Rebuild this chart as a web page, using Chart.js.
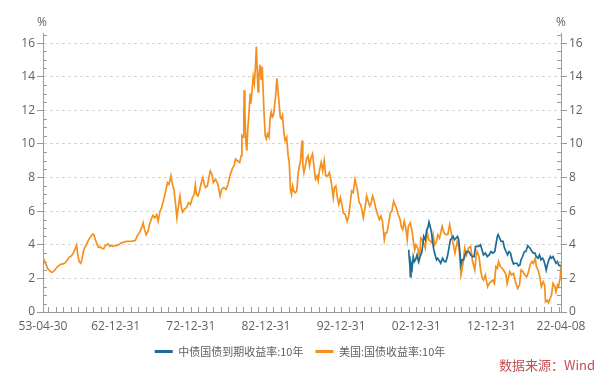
<!DOCTYPE html>
<html><head><meta charset="utf-8">
<script src="https://cdn.jsdelivr.net/npm/chart.js@4/dist/chart.umd.min.js"></script>
<style>
html,body{margin:0;padding:0;background:#fff;}
#wrap{position:relative;width:600px;height:377px;overflow:hidden;}
#c{position:absolute;left:0;top:0;}
.unit{position:absolute;top:13px;font:12px "Open Sans",sans-serif;color:#666;transform:translateX(-50%);}
#src{position:absolute;right:5px;top:356px;font:13px "Noto Sans CJK SC",sans-serif;color:#c44e52;line-height:18px;}
</style></head>
<body>
<div id="wrap">
<canvas id="c" width="600" height="377"></canvas>
<div class="unit" style="left:42px">%</div>
<div class="unit" style="left:561px">%</div>
<div id="src">数据来源：Wind</div>
</div>
<script>
// ---- data (decimal years) ----
const seriesNames = ['中债国债到期收益率:10年', '美国:国债收益率:10年'];
const xTickValues = [1953.326, 1962.997, 1972.997, 1982.997, 1992.997, 2002.997, 2012.997, 2022.266];
const xTickLabels = ['53-04-30', '62-12-31', '72-12-31', '82-12-31', '92-12-31', '02-12-31', '12-12-31', '22-04-08'];
const yTickValues = [0, 2, 4, 6, 8, 10, 12, 14, 16];

const usDates = [1953.33,1953.45,1953.6,1953.8,1954.0,1954.3,1954.5,1954.7,1954.9,1955.1,1955.4,1955.7,1955.9,1956.2,1956.5,1956.8,1957.0,1957.3,1957.55,1957.8,1957.95,1958.15,1958.35,1958.5,1958.7,1958.9,1959.1,1959.4,1959.7,1959.95,1960.1,1960.3,1960.5,1960.7,1960.9,1961.1,1961.4,1961.6,1961.8,1962.0,1962.2,1962.4,1962.6,1962.8,1963.1,1963.4,1963.7,1964.0,1964.4,1964.8,1965.2,1965.6,1965.9,1966.2,1966.45,1966.65,1966.85,1967.05,1967.3,1967.5,1967.8,1967.95,1968.2,1968.45,1968.65,1968.9,1969.1,1969.4,1969.65,1969.9,1970.1,1970.35,1970.55,1970.75,1970.95,1971.15,1971.35,1971.55,1971.75,1971.9,1972.1,1972.4,1972.7,1972.95,1973.2,1973.45,1973.6,1973.75,1973.95,1974.15,1974.4,1974.6,1974.8,1974.95,1975.2,1975.45,1975.6,1975.8,1976.0,1976.3,1976.6,1976.9,1977.1,1977.4,1977.7,1977.95,1978.2,1978.5,1978.75,1978.95,1979.2,1979.5,1979.7,1979.8,1979.95,1980.05,1980.1,1980.2,1980.35,1980.45,1980.6,1980.75,1980.9,1981.0,1981.15,1981.3,1981.45,1981.6,1981.72,1981.85,1981.95,1982.05,1982.2,1982.35,1982.5,1982.62,1982.75,1982.9,1983.05,1983.2,1983.4,1983.55,1983.7,1983.85,1984.0,1984.15,1984.3,1984.45,1984.6,1984.75,1984.9,1985.05,1985.2,1985.4,1985.55,1985.75,1985.95,1986.1,1986.25,1986.4,1986.55,1986.7,1986.9,1987.1,1987.3,1987.45,1987.6,1987.8,1987.9,1988.05,1988.2,1988.4,1988.6,1988.8,1988.95,1989.2,1989.4,1989.6,1989.8,1989.95,1990.15,1990.35,1990.55,1990.75,1990.95,1991.2,1991.45,1991.7,1991.95,1992.1,1992.3,1992.5,1992.7,1992.9,1993.1,1993.3,1993.55,1993.8,1994.0,1994.2,1994.4,1994.6,1994.85,1995.0,1995.2,1995.4,1995.6,1995.8,1995.95,1996.15,1996.4,1996.6,1996.8,1996.95,1997.2,1997.35,1997.6,1997.85,1998.1,1998.3,1998.5,1998.75,1998.9,1999.1,1999.3,1999.55,1999.75,2000.0,2000.15,2000.35,2000.6,2000.85,2001.0,2001.2,2001.4,2001.6,2001.8,2001.95,2002.2,2002.45,2002.65,2002.8,2002.95,2003.2,2003.45,2003.6,2003.8,2004.0,2004.2,2004.45,2004.65,2004.9,2005.1,2005.25,2005.45,2005.7,2005.85,2006.1,2006.45,2006.7,2006.95,2007.2,2007.45,2007.7,2007.9,2008.15,2008.45,2008.7,2008.95,2009.2,2009.45,2009.7,2009.95,2010.25,2010.5,2010.8,2010.95,2011.1,2011.35,2011.6,2011.8,2011.95,2012.2,2012.5,2012.7,2012.95,2013.2,2013.4,2013.6,2013.8,2013.95,2014.2,2014.45,2014.75,2014.95,2015.1,2015.45,2015.7,2015.95,2016.2,2016.5,2016.75,2016.95,2017.2,2017.45,2017.7,2017.95,2018.15,2018.4,2018.6,2018.85,2018.98,2019.2,2019.45,2019.65,2019.9,2020.1,2020.2,2020.45,2020.6,2020.85,2021.0,2021.2,2021.45,2021.6,2021.8,2021.95,2022.05,2022.15,2022.266];
const usYields = [3.05,3.12,2.95,2.75,2.55,2.42,2.36,2.4,2.5,2.62,2.75,2.85,2.85,2.9,3.05,3.25,3.3,3.45,3.7,3.98,3.4,3.0,2.9,3.1,3.6,3.85,4.0,4.3,4.5,4.65,4.6,4.3,4.05,3.85,3.9,3.8,3.75,3.95,4.0,4.05,3.9,3.95,3.9,3.95,3.95,4.0,4.1,4.15,4.2,4.2,4.22,4.25,4.55,4.75,5.0,5.3,4.9,4.6,4.8,5.2,5.6,5.75,5.6,5.8,5.4,6.0,6.2,6.7,7.2,7.7,7.6,8.1,7.6,7.3,6.5,5.6,6.3,6.9,6.2,5.95,6.1,6.2,6.5,6.4,6.8,7.0,7.55,7.0,6.9,7.2,7.7,8.0,7.6,7.4,7.5,8.1,8.4,8.2,7.7,7.9,7.6,6.9,7.3,7.4,7.3,7.6,8.1,8.5,8.7,9.1,9.0,8.9,9.3,10.5,10.4,11.5,13.2,11.8,10.0,9.6,11.0,11.9,13.0,12.4,13.2,14.0,13.6,14.6,15.8,14.2,13.1,14.0,14.7,13.8,14.6,13.2,11.8,10.5,10.3,10.6,10.4,11.5,11.9,11.6,11.7,12.3,12.9,13.9,13.2,12.4,11.6,11.5,11.7,10.6,10.2,10.4,9.3,8.9,7.3,7.0,7.5,7.2,7.1,7.2,8.3,8.7,9.0,10.2,8.8,8.3,8.6,9.1,9.3,8.7,9.1,9.4,8.6,7.9,8.1,7.8,8.5,8.9,8.4,9.0,8.1,8.1,8.3,7.7,6.8,7.4,7.5,6.8,6.4,6.8,6.4,5.9,5.8,5.4,5.7,6.4,7.2,7.1,7.9,7.6,7.2,6.5,6.4,6.0,5.6,6.1,6.9,6.6,6.3,6.4,6.9,6.7,6.2,5.8,5.5,5.7,5.4,4.3,4.7,4.7,5.2,5.9,6.0,6.6,6.4,6.2,5.8,5.5,5.1,4.9,5.4,5.0,4.3,5.1,5.3,4.8,4.1,3.7,4.0,3.8,3.2,4.4,4.3,4.1,3.8,4.8,4.3,4.2,4.1,4.6,4.0,4.2,4.6,4.4,5.1,4.7,4.6,4.6,5.2,4.6,4.1,3.5,4.2,3.8,2.2,2.8,3.8,3.4,3.8,3.9,3.0,2.5,3.3,3.6,3.3,2.4,2.0,1.9,2.2,1.5,1.7,1.8,1.9,1.7,2.7,2.6,3.0,2.7,2.6,2.4,2.2,1.7,2.4,2.2,2.3,1.8,1.4,1.6,2.5,2.4,2.2,2.1,2.4,2.8,3.0,2.9,3.2,2.7,2.5,2.1,1.5,1.8,1.6,0.6,0.7,0.55,0.85,1.0,1.7,1.5,1.2,1.6,1.5,1.8,2.0,2.7];

const cnDates = [2002.0,2002.05,2002.15,2002.22,2002.3,2002.45,2002.6,2002.75,2002.9,2003.1,2003.3,2003.5,2003.7,2003.85,2004.0,2004.2,2004.4,2004.55,2004.7,2004.85,2005.0,2005.15,2005.3,2005.5,2005.7,2005.85,2006.0,2006.25,2006.5,2006.75,2006.95,2007.15,2007.35,2007.55,2007.75,2007.9,2008.1,2008.3,2008.5,2008.65,2008.8,2008.95,2009.1,2009.3,2009.5,2009.7,2009.85,2010.0,2010.25,2010.5,2010.7,2010.9,2011.1,2011.3,2011.55,2011.75,2011.95,2012.2,2012.45,2012.7,2012.95,2013.2,2013.45,2013.6,2013.8,2013.9,2014.1,2014.3,2014.55,2014.75,2014.95,2015.15,2015.35,2015.55,2015.75,2015.95,2016.15,2016.4,2016.6,2016.8,2016.95,2017.15,2017.4,2017.6,2017.85,2017.95,2018.15,2018.4,2018.6,2018.8,2018.98,2019.2,2019.4,2019.6,2019.8,2019.95,2020.15,2020.3,2020.45,2020.65,2020.85,2021.0,2021.2,2021.4,2021.6,2021.8,2021.95,2022.1,2022.266];
const cnYields = [3.7,3.3,2.8,2.1,2.9,2.6,3.3,3.0,3.1,3.4,3.0,3.3,3.5,3.9,4.5,4.3,4.9,5.0,5.35,5.1,4.8,4.3,3.8,3.4,3.1,3.2,3.1,2.9,3.2,3.0,3.0,3.3,3.8,4.3,4.4,4.5,4.3,4.4,4.5,4.3,3.6,2.8,3.1,3.1,3.4,3.6,3.6,3.6,3.4,3.3,3.3,3.9,3.9,3.9,4.0,3.7,3.4,3.5,3.3,3.4,3.6,3.5,3.6,4.0,4.5,4.6,4.4,4.2,4.2,3.8,3.6,3.4,3.6,3.5,3.1,2.85,2.9,2.9,2.75,2.8,3.1,3.3,3.6,3.6,3.95,3.9,3.8,3.6,3.5,3.5,3.3,3.2,3.4,3.1,3.2,3.1,2.8,2.5,2.8,3.1,3.3,3.2,3.3,3.1,2.9,3.0,2.8,2.75,2.78];

const toPoints = (xs, ys) => xs.map((x, i) => ({x, y: ys[i]}));

const GRAY = '#9a9a9a';
const TXT = '#5f5f5f';

const minorTicks = {
  id: 'minorTicks',
  afterDraw(chart) {
    const {ctx, chartArea: a, scales: {x, y}} = chart;
    ctx.save();
    ctx.strokeStyle = GRAY; ctx.lineWidth = 1;
    ctx.beginPath();
    const xs = [xTickValues[0]];
    for (let yr = 1954; yr <= 2022; yr++) xs.push(yr);
    xs.push(xTickValues[xTickValues.length - 1]);
    for (const v of xs) {
      const px = Math.round(x.getPixelForValue(v)) + 0.5;
      ctx.moveTo(px, a.bottom); ctx.lineTo(px, a.bottom - 5);
    }
    for (let v = 0.5; v <= 16.5; v += 0.5) {
      if (v % 2 === 0) continue;
      const py = Math.round(y.getPixelForValue(v)) + 0.5;
      ctx.moveTo(a.left, py); ctx.lineTo(a.left + 4, py);
      ctx.moveTo(a.right, py); ctx.lineTo(a.right - 4, py);
    }
    ctx.stroke();
    ctx.restore();
  }
};

const yCommon = {
  min: 0, max: 16.6,
  afterBuildTicks: s => { s.ticks = yTickValues.map(v => ({value: v})); },
  ticks: {color: TXT, font: {family: 'Open Sans', size: 12}, padding: 2},
  border: {color: GRAY, width: 1, dash: [3, 3]}
};

new Chart(document.getElementById('c'), {
  type: 'line',
  data: {
    datasets: [
      {label: seriesNames[0], data: toPoints(cnDates, cnYields), borderColor: '#1c6c98', backgroundColor: '#1c6c98', borderWidth: 1.7, pointRadius: 0, tension: 0},
      {label: seriesNames[1], data: toPoints(usDates, usYields), borderColor: '#f5901e', backgroundColor: '#f5901e', borderWidth: 1.7, pointRadius: 0, tension: 0}
    ]
  },
  options: {
    responsive: false, animation: false,
    layout: {padding: {top: 33, left: 0, right: 0, bottom: 10}},
    scales: {
      x: {
        type: 'linear', min: xTickValues[0], max: xTickValues[xTickValues.length - 1],
        afterBuildTicks: s => { s.ticks = xTickValues.map(v => ({value: v})); },
        afterFit: s => { s.height = 22; },
        ticks: {color: TXT, font: {family: 'Open Sans', size: 12}, autoSkip: false, maxRotation: 0, padding: 7,
          callback: (v, i) => xTickLabels[i]},
        grid: {display: false, drawTicks: false},
        border: {color: GRAY, width: 1}
      },
      y: Object.assign({}, yCommon, {
        position: 'left',
        afterFit: s => { s.width = 43; },
        grid: {color: c => c.tick && c.tick.value === 0 ? 'rgba(0,0,0,0)' : '#d6d6d6', lineWidth: 1, tickColor: GRAY, tickLength: 6, tickBorderDash: []}
      }),
      y2: Object.assign({}, yCommon, {
        position: 'right',
        afterFit: s => { s.width = 39; },
        grid: {drawOnChartArea: false, tickColor: GRAY, tickLength: 6, tickBorderDash: []}
      })
    },
    plugins: {
      legend: {
        position: 'bottom',
        labels: {
          boxWidth: 18, boxHeight: 3, color: TXT, padding: 12,
          font: {family: 'Noto Sans CJK SC', size: 11},
          generateLabels: chart => Chart.defaults.plugins.legend.labels.generateLabels(chart).map(l => Object.assign(l, {lineWidth: 0}))
        }
      },
      tooltip: {enabled: false}
    }
  },
  plugins: [minorTicks]
});
</script>
</body></html>
